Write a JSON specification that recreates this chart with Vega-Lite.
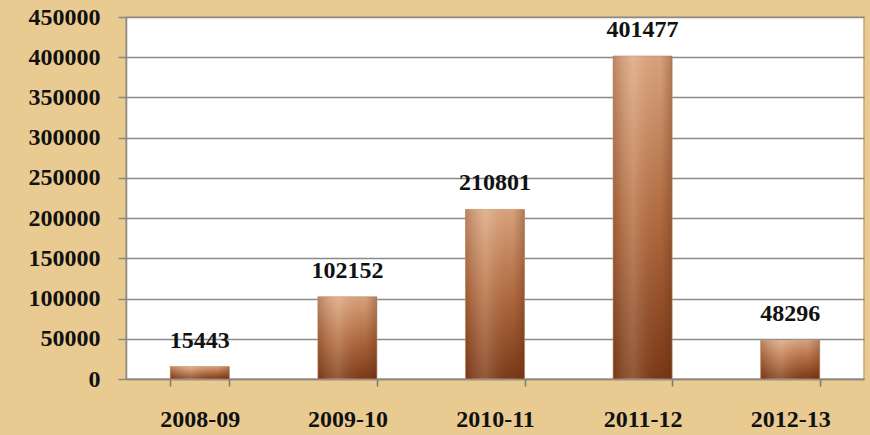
{
  "$schema": "https://vega.github.io/schema/vega-lite/v6.json",
  "width": 738,
  "height": 362,
  "autosize": {"type": "none"},
  "padding": {"left": 126, "top": 17, "right": 6, "bottom": 56},
  "background": "#E9CB92",
  "config": {
    "view": {"fill": "#FFFFFF", "stroke": "#C9A66E", "strokeWidth": 1.5},
    "font": "Liberation Serif"
  },
  "data": {
    "values": [
      {"year": "2008-09", "value": 15443},
      {"year": "2009-10", "value": 102152},
      {"year": "2010-11", "value": 210801},
      {"year": "2011-12", "value": 401477},
      {"year": "2012-13", "value": 48296}
    ]
  },
  "encoding": {
    "x": {
      "field": "year",
      "type": "nominal",
      "sort": null,
      "scale": {"paddingInner": 0.6, "paddingOuter": 0.3},
      "axis": {
        "title": null,
        "labelAngle": 0,
        "labelFont": "Liberation Serif",
        "labelFontWeight": "bold",
        "labelFontSize": 24,
        "labelColor": "#111111",
        "labelPadding": 21,
        "domainColor": "#888888",
        "domainWidth": 1.5,
        "tickColor": "#777777",
        "tickWidth": 1.5,
        "tickSize": 7,
        "tickBand": "extent",
        "grid": false
      }
    },
    "y": {
      "field": "value",
      "type": "quantitative",
      "scale": {"domain": [0, 450000], "nice": false},
      "axis": {
        "title": null,
        "values": [0, 50000, 100000, 150000, 200000, 250000, 300000, 350000, 400000, 450000],
        "format": "d",
        "labelFont": "Liberation Serif",
        "labelFontWeight": "bold",
        "labelFontSize": 24,
        "labelColor": "#111111",
        "labelPadding": 18,
        "domainColor": "#888888",
        "domainWidth": 1.5,
        "tickColor": "#888888",
        "tickWidth": 1.5,
        "tickSize": 8,
        "grid": true,
        "gridColor": "#8A8A8A",
        "gridWidth": 1.5
      }
    }
  },
  "layer": [
    {
      "mark": {
        "type": "bar",
        "color": {
          "gradient": "linear",
          "x1": 0, "y1": 0, "x2": 0, "y2": 1,
          "stops": [
            {"offset": 0, "color": "#DDA882"},
            {"offset": 0.5, "color": "#B36D42"},
            {"offset": 1, "color": "#7A3816"}
          ]
        },
        "stroke": "#C79A78",
        "strokeWidth": 0.8
      }
    },
    {
      "mark": {
        "type": "bar",
        "color": {
          "gradient": "linear",
          "x1": 0, "y1": 0, "x2": 1, "y2": 0,
          "stops": [
            {"offset": 0, "color": "rgba(110,50,20,0.30)"},
            {"offset": 0.35, "color": "rgba(255,240,225,0.18)"},
            {"offset": 0.8, "color": "rgba(110,50,20,0.05)"},
            {"offset": 1, "color": "rgba(90,40,15,0.35)"}
          ]
        }
      }
    },
    {
      "mark": {
        "type": "text",
        "baseline": "bottom",
        "dy": -14,
        "font": "Liberation Serif",
        "fontWeight": "bold",
        "fontSize": 24,
        "color": "#111111"
      },
      "encoding": {"text": {"field": "value", "type": "quantitative", "format": "d"}}
    }
  ]
}
